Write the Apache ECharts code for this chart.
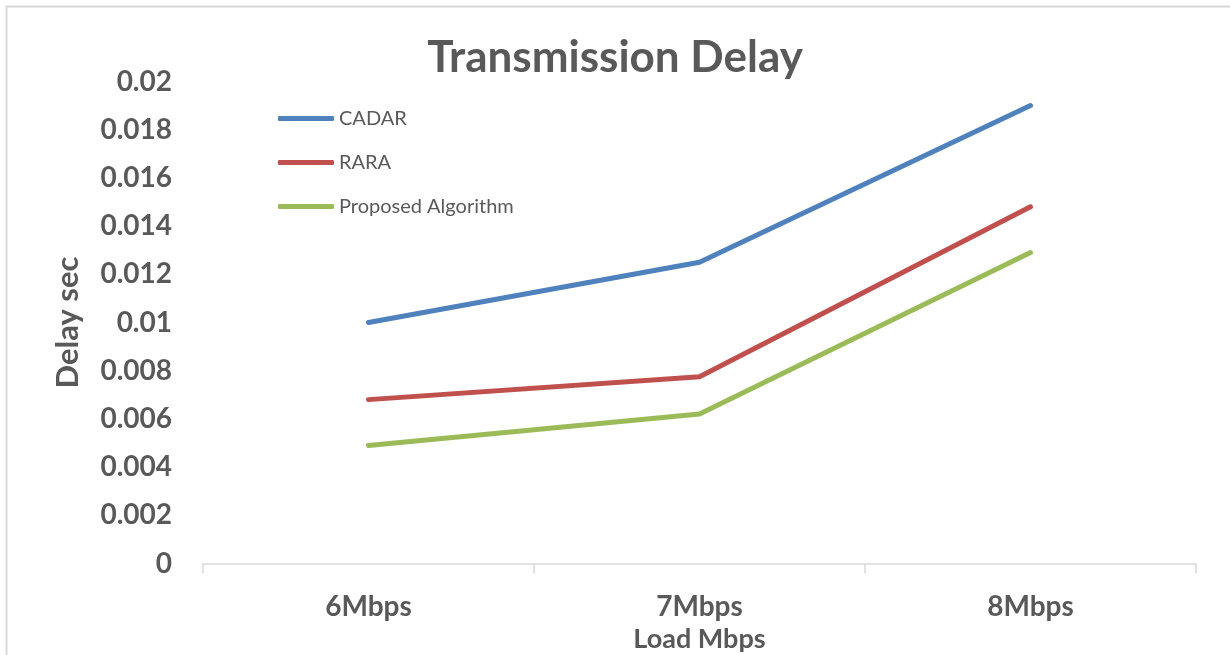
<!DOCTYPE html>
<html>
<head>
<meta charset="utf-8">
<script src="https://cdn.jsdelivr.net/npm/echarts@6/dist/echarts.min.js"></script>
<style>
  html, body { margin: 0; padding: 0; background: #ffffff; }
  #chart { width: 1230px; height: 655px; }
</style>
</head>
<body>
<div id="chart"></div>
<script>
// Load levels on the x axis
const categories = ['6Mbps', '7Mbps', '8Mbps'];

// Transmission delay (seconds) per routing scheme
const cadar = [0.0100, 0.0125, 0.0190];
const rara = [0.0068, 0.00775, 0.0148];
const proposed = [0.0049, 0.0062, 0.0129];

const FONT = 'Lato, "Open Sans", sans-serif';
const TEXT = '#595959';

const chart = echarts.init(document.getElementById('chart'));

function lineSeries(name, data, color) {
  return {
    name: name,
    type: 'line',
    data: data,
    symbol: 'none',
    lineStyle: { color: color, width: 5, cap: 'round', join: 'round' },
    itemStyle: { color: color },
    emphasis: { disabled: true }
  };
}

chart.setOption({
  animation: false,
  backgroundColor: '#ffffff',
  graphic: [{
    type: 'rect',
    shape: { x: 6.5, y: 6.5, width: 1240, height: 660 },
    style: { fill: 'none', stroke: '#D9D9D9', lineWidth: 2 },
    silent: true
  }],
  title: {
    text: 'Transmission Delay',
    left: 'center',
    top: 31,
    textStyle: { fontFamily: FONT, fontWeight: 'bold', fontSize: 44, color: TEXT }
  },
  legend: {
    orient: 'vertical',
    left: 278,
    top: 106.5,
    padding: 0,
    itemWidth: 56,
    itemHeight: 5,
    itemGap: 20,
    icon: 'roundRect',
    textStyle: { fontFamily: FONT, fontSize: 20, color: TEXT, lineHeight: 24 },
    data: ['CADAR', 'RARA', 'Proposed Algorithm']
  },
  grid: { left: 203, right: 34, top: 81.5, height: 482, containLabel: false, outerBoundsMode: 'none' },
  xAxis: {
    type: 'category',
    data: categories,
    boundaryGap: true,
    name: 'Load Mbps',
    nameLocation: 'middle',
    nameGap: 59,
    nameTextStyle: { fontFamily: FONT, fontWeight: 'bold', fontSize: 27, color: TEXT },
    axisLine: { lineStyle: { color: '#D9D9D9', width: 1.5 } },
    axisTick: { show: true, length: 10, lineStyle: { color: '#D9D9D9', width: 1.5 } },
    axisLabel: { fontFamily: FONT, fontWeight: 'bold', fontSize: 28, color: TEXT, margin: 29 },
    splitLine: { show: false }
  },
  yAxis: {
    type: 'value',
    min: 0,
    max: 0.02,
    interval: 0.002,
    name: 'Delay sec',
    nameLocation: 'middle',
    nameGap: 120,
    nameRotate: 90,
    nameTextStyle: { fontFamily: FONT, fontWeight: 'bold', fontSize: 31, color: TEXT },
    axisLine: { show: false },
    axisTick: { show: false },
    splitLine: { show: false },
    axisLabel: {
      fontFamily: FONT, fontWeight: 'bold', fontSize: 28, color: TEXT, margin: 31,
      formatter: function (v) { return String(parseFloat(v.toFixed(3))); }
    }
  },
  series: [
    lineSeries('CADAR', cadar, '#4F81BD'),
    lineSeries('RARA', rara, '#C0504D'),
    lineSeries('Proposed Algorithm', proposed, '#9BBB59')
  ]
});
</script>
</body>
</html>
